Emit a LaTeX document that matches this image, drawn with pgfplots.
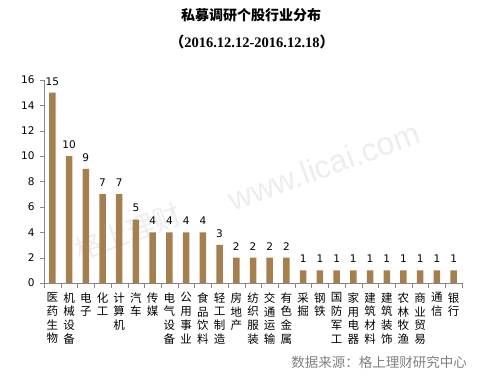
\documentclass[border=0pt]{standalone}
\usepackage{pgfplots}
\pgfplotsset{compat=1.18}
\usepackage{fontspec}
\setmainfont{DejaVu Sans}
\newfontfamily\cjk{Noto Sans CJK SC}
\newfontfamily\tnr{Liberation Serif}
\newfontfamily\lsans{Liberation Sans}
\definecolor{barc}{RGB}{166,127,79}
\definecolor{axc}{RGB}{134,134,134}
\begin{document}
\begin{tikzpicture}
\path[use as bounding box] (-44pt,-95pt) rectangle (443pt,283pt);
% watermark
\node[rotate=20, text=black!7, font=\cjk\fontsize{28}{28}\selectfont] at (84pt,51pt) {格上理财};
\node[rotate=20, text=black!7, font=\lsans\fontsize{32}{32}\selectfont] at (280pt,117pt) {www.licai.com};
\begin{axis}[
  scale only axis, width=418pt, height=203pt,
  xmin=-0.5, xmax=24.5, ymin=0, ymax=16,
  axis x line*=bottom, axis y line*=left,
  axis line style={draw=axc},
  ytick={0,2,...,16},
  xtick={0,...,24},
  minor xtick={-0.5,0.5,...,24.5},
  major x tick style={draw=none},
  minor x tick style={draw=axc},
  y tick style={draw=axc},
  tick align=outside,
  major tick length=4pt, minor tick length=5pt,
  /pgf/number format/assume math mode=true,
  y tick label style={font=\fontsize{10.5}{12}\selectfont, xshift=-2pt},
  xticklabels={医\\药\\生\\物, 机\\械\\设\\备, 电\\子, 化\\工, 计\\算\\机, 汽\\车, 传\\媒, 电\\气\\设\\备, 公\\用\\事\\业, 食\\品\\饮\\料, 轻\\工\\制\\造, 房\\地\\产, 纺\\织\\服\\装, 交\\通\\运\\输, 有\\色\\金\\属, 采\\掘, 钢\\铁, 国\\防\\军\\工, 家\\用\\电\\器, 建\\筑\\材\\料, 建\\筑\\装\\饰, 农\\林\\牧\\渔, 商\\业\\贸\\易, 通\\信, 银\\行},
  x tick label style={font=\cjk\fontsize{11.5}{13.8}\selectfont, align=center, anchor=north, yshift=-2pt},
  ybar, bar width=6.5pt,
  nodes near coords,
  every node near coord/.append style={font=\fontsize{10.5}{12}\selectfont, text=black, yshift=4pt},
]
\addplot[fill=barc, draw=none] table {
x y
0 15
1 10
2 9
3 7
4 7
5 5
6 4
7 4
8 4
9 4
10 3
11 2
12 2
13 2
14 2
15 1
16 1
17 1
18 1
19 1
20 1
21 1
22 1
23 1
24 1
};
\end{axis}
\node[font=\cjk\bfseries\fontsize{14}{16}\selectfont] at (207pt,268pt) {私募调研个股行业分布};
\node[font=\tnr\bfseries\fontsize{14.5}{16}\selectfont] at (208pt,241pt) {{\cjk （}2016.12.12-2016.12.18{\cjk ）}};
\node[font=\cjk\fontsize{13.5}{14}\selectfont, text=black!50] at (335pt,-79pt) {数据来源：格上理财研究中心};
\end{tikzpicture}
\end{document}
